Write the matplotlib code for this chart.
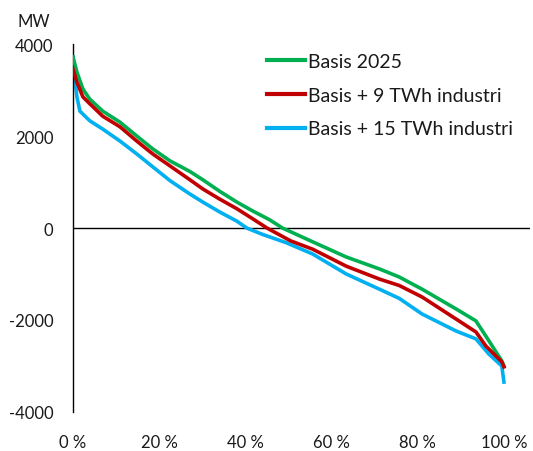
import matplotlib
matplotlib.use("Agg")
import matplotlib.pyplot as plt
from matplotlib.ticker import FixedLocator

plt.rcParams['font.family'] = ['Lato', 'DejaVu Sans']

# Duration curves: share of hours (0-1) vs. MW
x_green = [0.0, 0.009, 0.023, 0.039, 0.069, 0.109, 0.148, 0.185, 0.225, 0.271,
           0.301, 0.340, 0.380, 0.417, 0.456, 0.486, 0.556, 0.634, 0.711, 0.757,
           0.810, 0.889, 0.935, 0.958, 0.995, 1.0]
y_green = [3720, 3390, 3020, 2800, 2540, 2300, 2000, 1720, 1460, 1230,
           1050, 800, 565, 370, 180, 0, -300, -630, -890, -1065,
           -1330, -1760, -2020, -2350, -2890, -3000]

x_red = [0.0, 0.009, 0.023, 0.039, 0.069, 0.109, 0.148, 0.185, 0.225, 0.271,
         0.301, 0.340, 0.380, 0.417, 0.450, 0.505, 0.556, 0.634, 0.711, 0.757,
         0.810, 0.889, 0.935, 0.958, 0.995, 1.0]
y_red = [3450, 3170, 2850, 2700, 2430, 2200, 1890, 1610, 1350, 1050,
         850, 630, 420, 200, 0, -280, -460, -830, -1110, -1250,
         -1500, -1980, -2260, -2565, -2910, -3020]

x_blue = [0.0, 0.005, 0.009, 0.016, 0.039, 0.069, 0.109, 0.148, 0.185, 0.225,
          0.271, 0.301, 0.340, 0.380, 0.403, 0.440, 0.495, 0.556, 0.634, 0.711,
          0.757, 0.810, 0.889, 0.935, 0.965, 0.995, 1.0]
y_blue = [3720, 3200, 2850, 2540, 2330, 2150, 1890, 1610, 1330, 1030,
          740, 565, 350, 150, 0, -140, -320, -565, -1000, -1330,
          -1530, -1870, -2240, -2410, -2740, -3000, -3350]

labels = ["Basis 2025", "Basis + 9 TWh industri", "Basis + 15 TWh industri"]
x_ticks = [0.0, 0.2, 0.4, 0.6, 0.8, 1.0]
x_tick_labels = ["0 %", "20 %", "40 %", "60 %", "80 %", "100 %"]
y_ticks = [-4000, -2000, 0, 2000, 4000]

fig = plt.figure(figsize=(5.33, 4.52), dpi=100)
ax = fig.add_axes([0.137, 0.0863, 0.857, 0.8141])

lw = 2.6
ax.plot(x_green, y_green, color="#00B050", lw=lw, label=labels[0], zorder=3)
ax.plot(x_red, y_red, color="#C00000", lw=lw, label=labels[1], zorder=4)
ax.plot(x_blue, y_blue, color="#00B0F0", lw=lw, label=labels[2], zorder=2)

ax.axhline(0, color="black", lw=1.0, zorder=1)

ax.set_xlim(0, 1.06)
ax.set_ylim(-4000, 4000)
ax.xaxis.set_major_locator(FixedLocator(x_ticks))
ax.set_xticklabels(x_tick_labels)
ax.yaxis.set_major_locator(FixedLocator(y_ticks))
ax.set_yticklabels([str(v) for v in y_ticks])

for s in ("top", "right", "bottom"):
    ax.spines[s].set_visible(False)
ax.spines["left"].set_color("black")
ax.spines["left"].set_linewidth(1.0)

ax.tick_params(axis="y", length=0, pad=14, labelsize=12, labelcolor="#1a1a1a")
ax.tick_params(axis="x", length=0, pad=16, labelsize=12, labelcolor="#1a1a1a")

fig.text(34 / 533, 1 - 22 / 452, "MW", ha="center", va="center",
         fontsize=12, color="#1a1a1a")

leg = ax.legend(loc="upper left", bbox_to_anchor=(267 / 533, 1 - 54 / 452),
                bbox_transform=fig.transFigure, frameon=False, fontsize=14,
                handlelength=1.95, handletextpad=0.15, labelspacing=0.86,
                borderaxespad=0, borderpad=0)
for t in leg.get_texts():
    t.set_color("#1a1a1a")
for h in leg.get_lines():
    h.set_linewidth(3.0)

fig.savefig("out.png", dpi=100)
